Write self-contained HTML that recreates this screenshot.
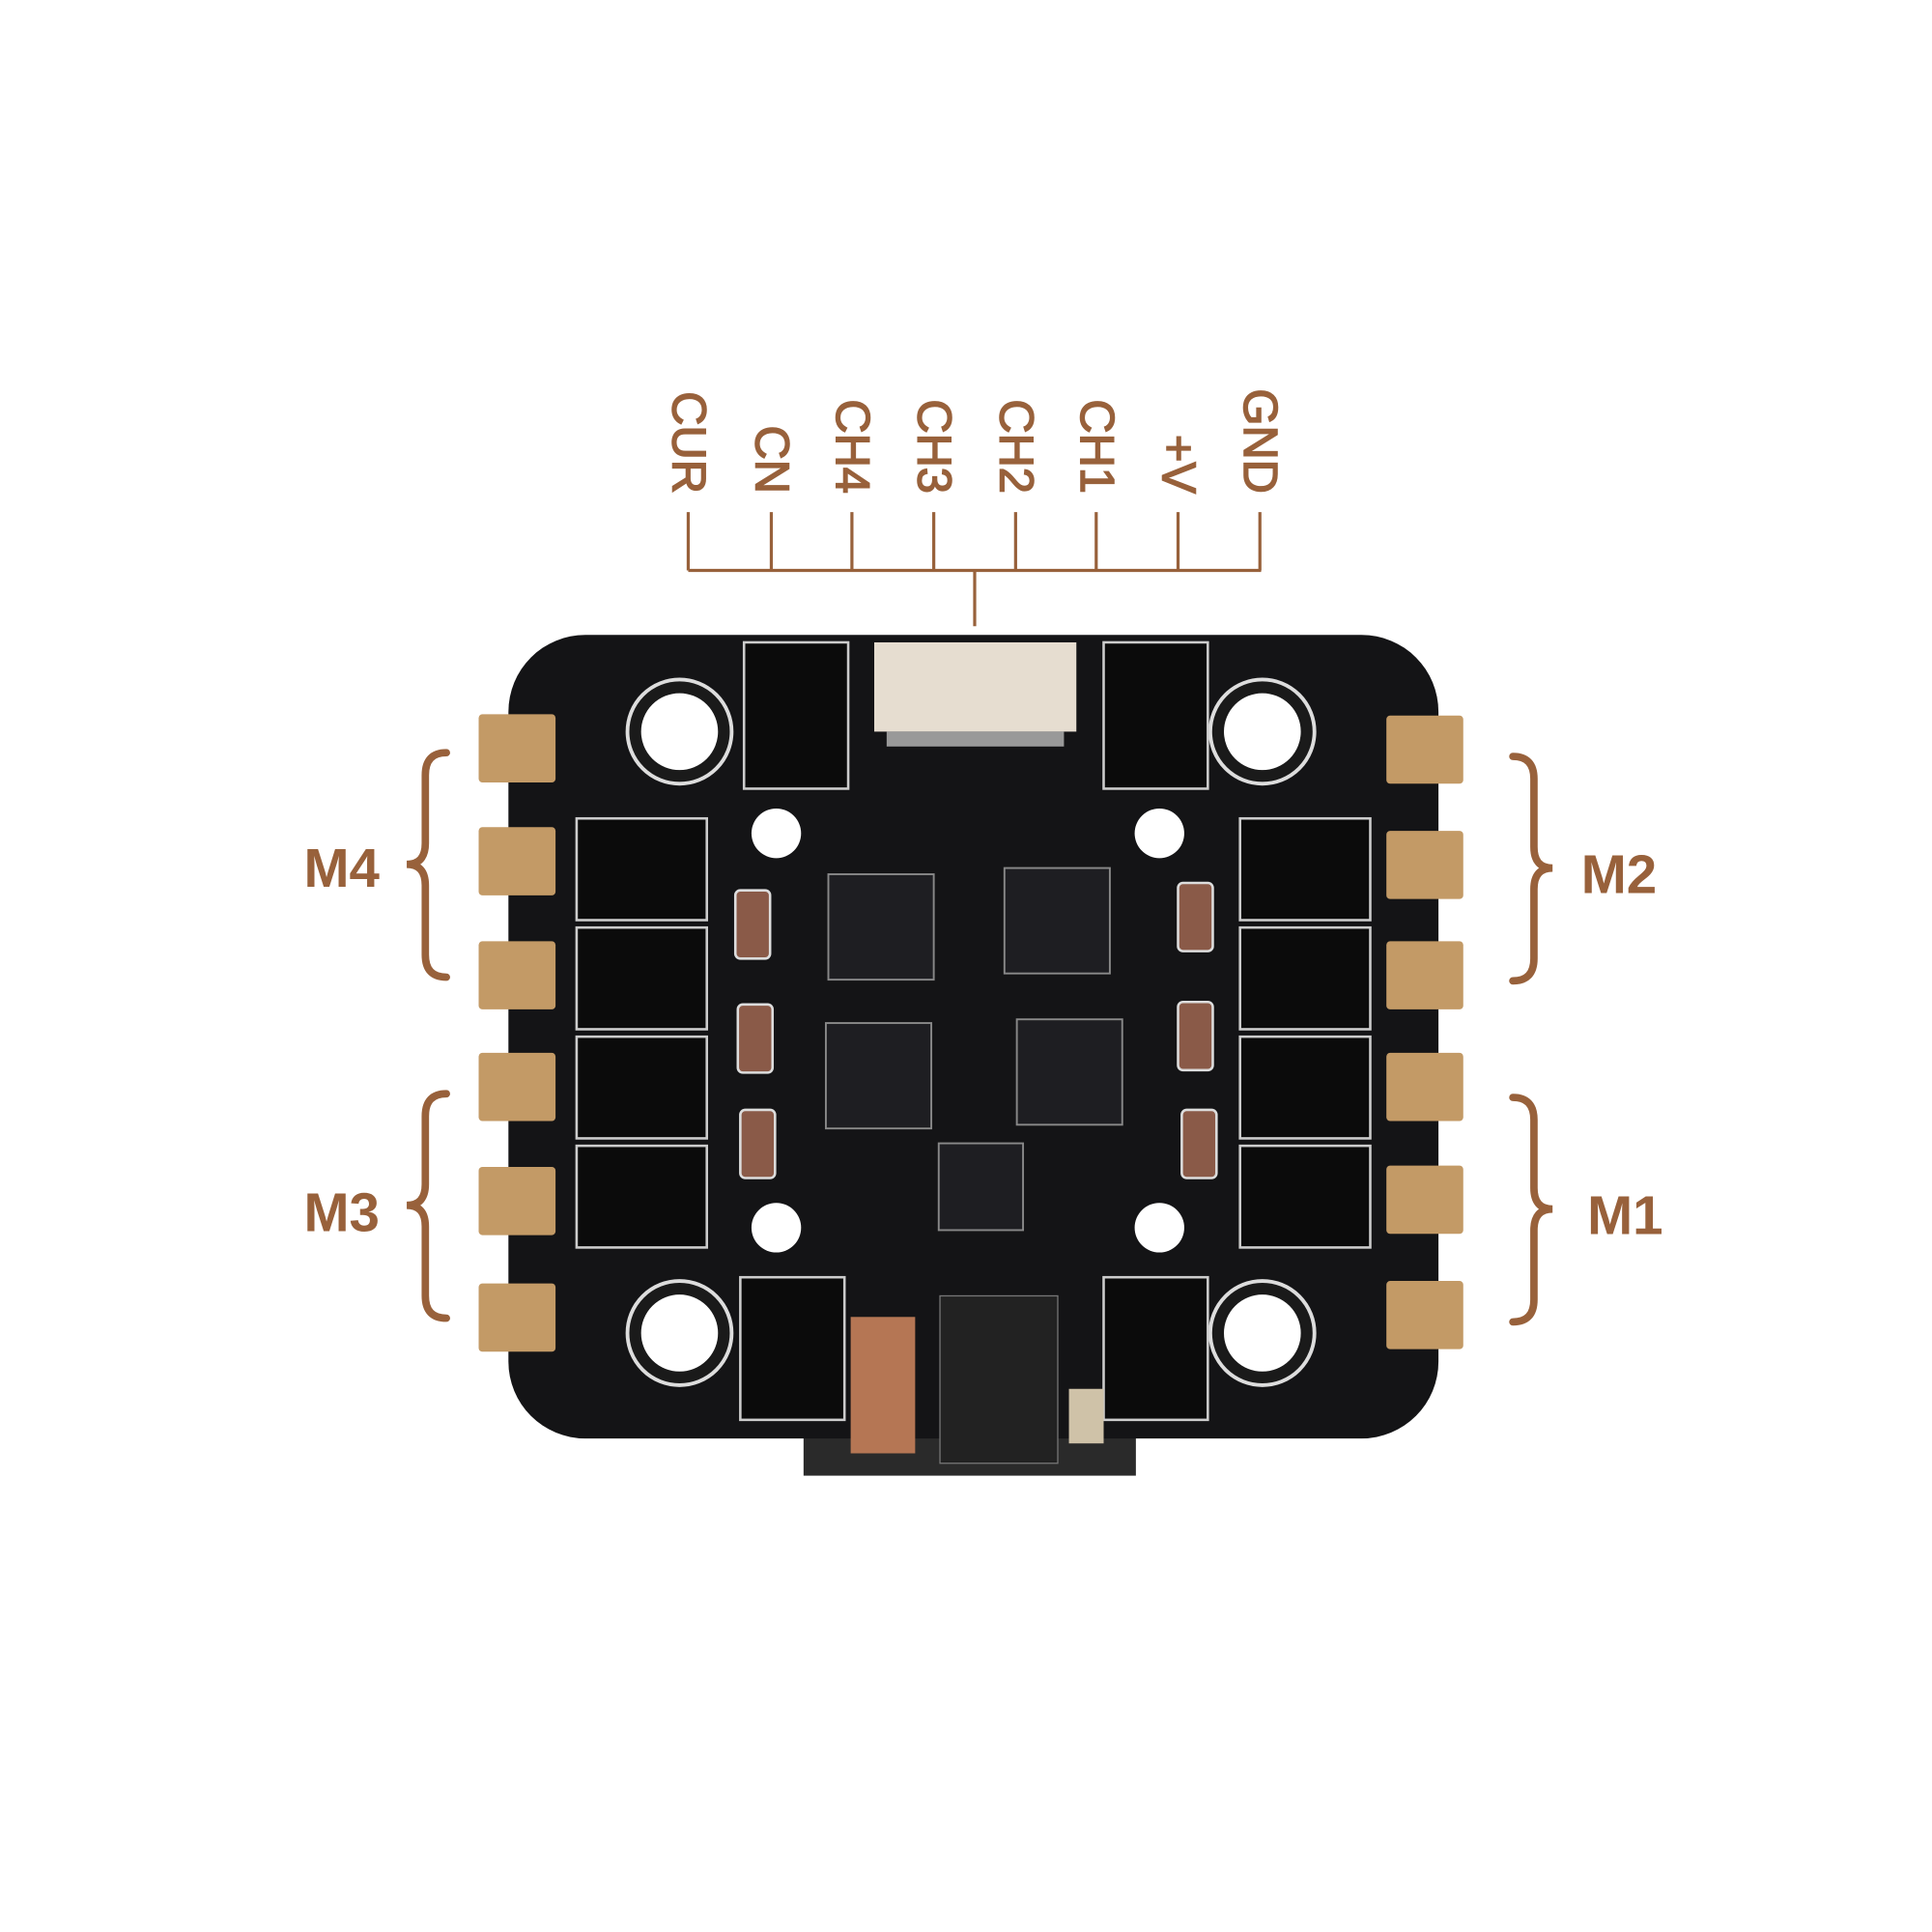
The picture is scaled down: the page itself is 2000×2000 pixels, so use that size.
<!DOCTYPE html>
<html><head><meta charset="utf-8"><style>
html,body{margin:0;padding:0;background:#fff;}
svg{display:block;}
text{font-family:"Liberation Sans","DejaVu Sans",sans-serif;}
</style></head><body>
<svg width="2000" height="2000" viewBox="0 0 2000 2000" xmlns="http://www.w3.org/2000/svg">
<g transform="scale(1.28370)">
<!-- header labels -->
<g fill="#98613b" stroke="#98613b" stroke-width="1.2" font-size="38">
<text transform="translate(555,398) rotate(90)" text-anchor="end" dominant-baseline="central">CUR</text>
<text transform="translate(622,398) rotate(90)" text-anchor="end" dominant-baseline="central">CN</text>
<text transform="translate(687,398) rotate(90)" text-anchor="end" dominant-baseline="central">CH4</text>
<text transform="translate(753,398) rotate(90)" text-anchor="end" dominant-baseline="central">CH3</text>
<text transform="translate(819,398) rotate(90)" text-anchor="end" dominant-baseline="central">CH2</text>
<text transform="translate(884,398) rotate(90)" text-anchor="end" dominant-baseline="central">CH1</text>
<text transform="translate(950,398) rotate(90)" text-anchor="end" dominant-baseline="central">+V</text>
<text transform="translate(1016,398) rotate(90)" text-anchor="end" dominant-baseline="central">GND</text>
</g>
<g stroke="#98613b" stroke-width="2.5" fill="none">
<path d="M555,413V460M622,413V460M687,413V460M753,413V460M819,413V460M884,413V460M950,413V460M1016,413V460M555,460H1017M786,460V505"/>
</g>
<!-- braces -->
<g stroke="#98613b" stroke-width="6" fill="none" stroke-linecap="round">
<path d="M360,607 Q343,607 343,625 V680 Q343,697 328,697 Q343,697 343,714 V770 Q343,788 360,788"/>
<path d="M360,882 Q343,882 343,900 V955 Q343,972 328,972 Q343,972 343,989 V1045 Q343,1063 360,1063"/>
<path d="M1220,610 Q1237,610 1237,628 V683 Q1237,700 1252,700 Q1237,700 1237,717 V773 Q1237,791 1220,791"/>
<path d="M1220,885 Q1237,885 1237,903 V958 Q1237,975 1252,975 Q1237,975 1237,992 V1048 Q1237,1066 1220,1066"/>
</g>
<g fill="#98613b" font-size="44" font-weight="bold">
<text x="245" y="715">M4</text>
<text x="245" y="993">M3</text>
<text x="1275" y="720">M2</text>
<text x="1280" y="995">M1</text>
</g>
<!-- board -->
<rect x="648" y="1140" width="268" height="50" fill="#2a2a2a"/>
<rect x="410" y="512" width="750" height="648" rx="62" fill="#141416"/>
<!-- pads -->
<g fill="#c39a66">
<rect x="386" y="576" width="62" height="55" rx="3"/><rect x="386" y="667" width="62" height="55" rx="3"/>
<rect x="386" y="759" width="62" height="55" rx="3"/><rect x="386" y="849" width="62" height="55" rx="3"/>
<rect x="386" y="941" width="62" height="55" rx="3"/><rect x="386" y="1035" width="62" height="55" rx="3"/>
<rect x="1118" y="577" width="62" height="55" rx="3"/><rect x="1118" y="670" width="62" height="55" rx="3"/>
<rect x="1118" y="759" width="62" height="55" rx="3"/><rect x="1118" y="849" width="62" height="55" rx="3"/>
<rect x="1118" y="940" width="62" height="55" rx="3"/><rect x="1118" y="1033" width="62" height="55" rx="3"/>
</g>
<!-- mounting holes -->
<g fill="#fff" stroke="#1a1a1a" stroke-width="10">
<circle cx="548" cy="590" r="36"/><circle cx="1018" cy="590" r="36"/>
<circle cx="548" cy="1075" r="36"/><circle cx="1018" cy="1075" r="36"/>
</g>
<g fill="none" stroke="#ddd" stroke-width="3">
<circle cx="548" cy="590" r="42"/><circle cx="1018" cy="590" r="42"/>
<circle cx="548" cy="1075" r="42"/><circle cx="1018" cy="1075" r="42"/>
</g>
<g fill="#fff">
<circle cx="626" cy="672" r="20"/><circle cx="935" cy="672" r="20"/>
<circle cx="626" cy="990" r="20"/><circle cx="935" cy="990" r="20"/>
</g>
<!-- mosfets -->
<g fill="#0b0b0b" stroke="#ccc" stroke-width="2">
<rect x="465" y="660" width="105" height="82"/><rect x="465" y="748" width="105" height="82"/>
<rect x="465" y="836" width="105" height="82"/><rect x="465" y="924" width="105" height="82"/>
<rect x="1000" y="660" width="105" height="82"/><rect x="1000" y="748" width="105" height="82"/>
<rect x="1000" y="836" width="105" height="82"/><rect x="1000" y="924" width="105" height="82"/>
<rect x="600" y="518" width="84" height="118"/><rect x="890" y="518" width="84" height="118"/>
<rect x="597" y="1030" width="84" height="115"/><rect x="890" y="1030" width="84" height="115"/>
</g>
<!-- connector -->
<rect x="705" y="518" width="163" height="72" fill="#e6ddd0"/>
<rect x="715" y="590" width="143" height="12" fill="#999"/>
<!-- central chips -->
<g fill="#1e1e22" stroke="#888" stroke-width="1.5">
<rect x="668" y="705" width="85" height="85"/><rect x="810" y="700" width="85" height="85"/>
<rect x="666" y="825" width="85" height="85"/><rect x="820" y="822" width="85" height="85"/>
<rect x="757" y="922" width="68" height="70"/>
</g>
<!-- caps -->
<g fill="#8a5a48" stroke="#ddd" stroke-width="2">
<rect x="593" y="718" width="28" height="55" rx="4"/><rect x="595" y="810" width="28" height="55" rx="4"/>
<rect x="597" y="895" width="28" height="55" rx="4"/><rect x="950" y="712" width="28" height="55" rx="4"/>
<rect x="950" y="808" width="28" height="55" rx="4"/><rect x="953" y="895" width="28" height="55" rx="4"/>
</g>
<!-- inductor and regulator -->
<rect x="686" y="1062" width="52" height="110" fill="#b57654"/>
<rect x="758" y="1045" width="95" height="135" fill="#222" stroke="#777"/>
<rect x="862" y="1120" width="28" height="44" fill="#cfc2a8"/>
</g>
</svg>
</body></html>
